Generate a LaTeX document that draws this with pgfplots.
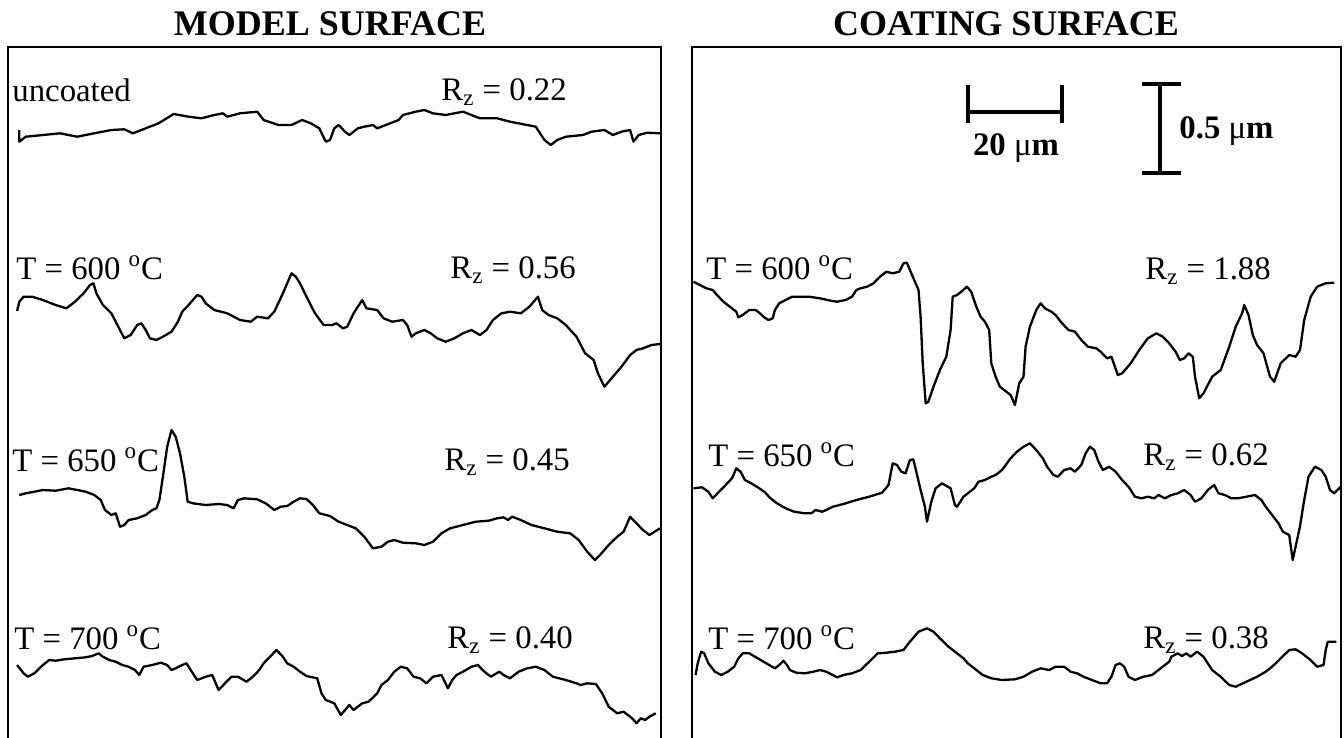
\documentclass[border=0pt]{standalone}
\usepackage{fontspec}
\setmainfont{Liberation Serif}
\usepackage{pgfplots}
\pgfplotsset{compat=1.18}
\pgfplotsset{panel/.style={scale only axis, height=349pt, y dir=reverse, ymin=47, ymax=745,
  xtick=\empty, ytick=\empty, axis line style={line width=1.4pt}, clip=false},
  prof/.style={black, line width=1.15pt, mark=none, line join=round}}
\newcommand{\lbl}{\fontsize{16.4}{18}\selectfont}
\newcommand{\ttl}{\fontsize{18}{20}\selectfont\bfseries}
\begin{document}
\begin{tikzpicture}
% ---------------- left panel ----------------
\begin{axis}[panel, at={(4pt,-23.5pt)}, anchor=north west, width=326.5pt, xmin=8, xmax=661]
\addplot[prof] coordinates {(19.3,130)(19.3,141.7)(25.7,136.7)(42.9,135)(60,133.3)(77.2,136.7)(94.3,133.3)(111.4,130)(124.3,129.3)(132.9,133.3)(145.7,128.3)(158.6,123.3)(173.6,114)(188.6,116.7)(201.5,118.3)(214.3,115)(222.9,113.3)(227.2,116.7)(240,113.3)(257.2,111.7)(263.6,120)(278.6,125)(291.5,125)(302.2,120)(310.8,123.3)(319.3,128.3)(325.8,141.7)(330,140)(334.3,128.3)(338.6,125)(345,131.7)(349.3,135)(357.9,128.3)(364.3,126.7)(372.9,125)(377.2,128.3)(385.8,125)(398.6,120)(402.9,115)(415.8,111.7)(424.3,110)(432.9,113.3)(445.8,115)(454.4,113.3)(462.9,111.7)(471.5,115)(480,118.3)(497.2,118.3)(510.1,121.7)(527.2,125)(535.8,126.7)(544.4,140)(550.8,145)(557.2,140)(565.8,136.7)(582.9,135)(591.5,131.7)(604.4,130)(612.9,135)(621.5,131.7)(630.1,130)(633.5,141.7)(638.7,135)(647.2,132.7)(660,133.3)};
\addplot[prof] coordinates {(17.1,311)(19.3,301.7)(23.6,296.7)(32.1,296.7)(42.9,300)(55.7,305)(66.4,308.3)(75,301.7)(83.6,293.3)(90,285)(93.4,283.3)(96.4,293.3)(102.9,305)(111.4,313.3)(120,330)(124.3,338.3)(130.7,335)(137.2,325)(141.4,323.3)(145.7,330)(150,338.3)(156.4,340)(162.9,336.7)(171.5,331.7)(177.9,321.7)(182.2,311.7)(188.6,305)(197.2,295)(201.5,296.7)(205.7,303.3)(214.3,310)(227.2,313.3)(240,320)(250.8,321.7)(255,318.3)(257.2,316.7)(267.9,318.3)(274.3,311.7)(282.9,293.3)(291.5,273.3)(295.8,276.7)(300,283.3)(306.5,296.7)(315,313.3)(323.6,325)(332.2,325)(336.5,323.3)(342.9,328.3)(347.2,326.7)(353.6,313.3)(362.2,300)(366.5,308.3)(377.2,310)(383.6,318.3)(392.2,321.7)(402.9,320)(407.2,325)(411.5,336.7)(415.8,333.3)(424.3,330)(430.8,333.3)(437.2,338.3)(445.8,341.7)(454.4,338.3)(462.9,333.3)(471.5,330)(480,335)(486.5,330)(492.9,320)(501.5,313.3)(510.1,311.7)(520.8,313.3)(529.4,306.7)(537.9,296.7)(542.2,310)(548.6,315)(557.2,318.3)(565.8,325)(576.5,336.7)(585.1,353.3)(593.7,360)(597.9,373.3)(604.4,386.7)(612.9,376.7)(621.5,366.7)(630.1,355)(636.5,350)(643,348.3)(651.5,345)(660,344)};
\addplot[prof] coordinates {(19.3,495)(25.7,493.3)(34.3,491.7)(42.9,490)(55.7,490.7)(68.6,488.3)(77.2,490)(85.7,491.7)(94.3,495)(100.7,500)(105,510)(111.4,515)(115.7,513.3)(120,526.7)(124.3,525)(128.6,520)(137.2,518.3)(145.7,515)(152.2,510)(156.4,508.3)(159.4,500)(162.9,476.7)(167.2,446.7)(171.5,430)(175.7,436.7)(180,453.3)(184.3,476.7)(187.7,501.7)(192.9,503.3)(205.7,505)(218.6,504)(227.2,505)(233.6,508.3)(237.9,500)(244.3,498.3)(257.2,499.3)(265.7,503.3)(274.3,510)(280.8,506.7)(287.2,506)(293.6,501.7)(300,498.3)(306.5,499)(312.9,505)(319.3,513.3)(330,516)(338.6,521.7)(347.2,525)(355.8,528.3)(364.3,536.7)(372.9,548.3)(381.5,546.7)(387.9,541.7)(394.3,540)(402.9,542.7)(415.8,543.3)(424.3,545)(432.9,541.7)(441.5,533.3)(450.1,528.3)(462.9,525)(475.8,521.7)(488.6,520.7)(497.2,518.3)(503.6,517.3)(507.9,520)(512.2,516.7)(520.8,520)(531.5,525)(544.4,528.3)(557.2,531.7)(570.1,533.3)(578.7,540)(587.2,551.7)(594.9,560)(600,555)(608.7,545)(617.2,536.7)(623.6,531.7)(630.1,516.7)(636.5,523.3)(643,530)(649.4,535)(660,528.3)};
\addplot[prof] coordinates {(17.1,665)(23.6,673.3)(27.9,676.7)(34.3,673.3)(42.9,665)(49.3,660)(55.7,660.7)(64.3,659.3)(75,658.3)(85.7,657.3)(92.2,656)(98.6,653.3)(102.9,656.7)(109.3,660)(115.7,661.7)(122.2,665)(128.6,666.7)(135,670)(139.3,675)(143.6,666.7)(152.2,665)(160.7,662.7)(167.2,665)(171.5,670)(175.7,668.3)(182.2,665)(186.5,663.3)(190.7,670)(197.2,680)(205.7,676.7)(212.2,675)(218.6,690)(225,683.3)(231.5,676.7)(237.9,676.7)(246.5,681.7)(252.9,676.7)(259.3,670)(263.6,663.3)(270,656.7)(276.5,650)(282.9,656.7)(287.2,663.3)(293.6,666.7)(300,671.7)(306.5,676)(317.2,678.3)(321.5,693.3)(325.8,700)(334.3,703.3)(340.8,715)(345.1,710)(349.3,705)(353.6,710)(362.2,703.3)(368.6,701.7)(377.2,693.3)(381.5,685)(387.9,680)(394.3,671.7)(400.8,666.7)(407.2,668.3)(413.6,676.7)(420.1,678.3)(426.5,683.3)(432.9,676.7)(441.5,675)(447.9,688.3)(452.2,680)(456.5,675)(462.9,671.7)(471.5,666.7)(477.9,665)(484.4,671.7)(490.8,676.7)(499.4,671.7)(503.6,675)(510.1,678.3)(518.6,671.7)(527.2,668.3)(535.8,666.7)(544.4,670)(552.9,676.7)(565.8,680)(576.5,683.3)(580.8,685)(587.2,683.3)(595.8,684)(602.2,693.3)(608.7,706.7)(617.2,713.3)(623.6,711.7)(632.2,718.3)(636.5,723.3)(640.8,718.3)(645.1,720)(649.4,716.7)(655.8,713.3)};
\node[font=\ttl] at (axis cs:330,24) {MODEL SURFACE};
\node[font=\lbl, anchor=west, inner sep=0pt] at (axis cs:12,90) {uncoated};
\node[font=\lbl, anchor=west, inner sep=0pt] at (axis cs:441,92) {R\textsubscript{z} = 0.22};
\node[font=\lbl, anchor=west, inner sep=0pt] at (axis cs:16,268) {T = 600 \textsuperscript{o}C};
\node[font=\lbl, anchor=west, inner sep=0pt] at (axis cs:450,270) {R\textsubscript{z} = 0.56};
\node[font=\lbl, anchor=west, inner sep=0pt] at (axis cs:12,460) {T = 650 \textsuperscript{o}C};
\node[font=\lbl, anchor=west, inner sep=0pt] at (axis cs:444,462) {R\textsubscript{z} = 0.45};
\node[font=\lbl, anchor=west, inner sep=0pt] at (axis cs:14,638) {T = 700 \textsuperscript{o}C};
\node[font=\lbl, anchor=west, inner sep=0pt] at (axis cs:447,640) {R\textsubscript{z} = 0.40};
\end{axis}
% ---------------- right panel ----------------
\begin{axis}[panel, at={(346pt,-23.5pt)}, anchor=north west, width=324.5pt, xmin=692, xmax=1341]
\addplot[prof] coordinates {(693.4,281.7)(699.9,285)(706.3,288.3)(712.7,290)(717,295)(723.4,301.7)(729.9,306.7)(736.3,311.7)(738.4,317.3)(742.7,315)(749.2,310)(755.6,310)(759.9,313.3)(764.2,317.3)(768.4,320)(772.7,318.3)(774.9,310)(779.2,303.3)(785.6,300)(792,296.7)(800.6,296.7)(809.2,296.7)(819.9,298.3)(830.6,300.7)(837,301.7)(845.6,300)(852,296.7)(856.3,290)(860.6,288.3)(867,286.7)(873.5,283.3)(879.9,276.7)(886.3,271.7)(892.7,273.3)(899.2,271.7)(903.5,263.3)(906.9,262.7)(909.9,270)(914.2,280)(918.5,290)(920.6,316.7)(922.7,363.3)(925.7,403.3)(928.3,401.7)(933.5,386.7)(939.9,370)(946.3,356.7)(950.6,330)(952.7,296.7)(957,295)(961.3,291.7)(966.9,286.7)(971.2,291.7)(976.3,306.7)(980.6,316.7)(984.9,321.7)(989.2,330)(991.3,363.3)(995.6,376.7)(999.9,386.7)(1006.3,391.7)(1010.6,395)(1014.9,405)(1019.2,383.3)(1023.5,376.7)(1025.6,346.7)(1029.9,326.7)(1036.3,310)(1040.6,303.3)(1044.9,308.3)(1051.3,311.7)(1055.6,315)(1062,323.3)(1068.5,330)(1074.9,331.7)(1081.3,340)(1087.8,346.7)(1096.4,348.3)(1100.6,351.7)(1107.1,358.3)(1111.4,356.7)(1117.8,375)(1122.1,373.3)(1130.7,363.3)(1139.2,350)(1147.8,338.3)(1156.4,333.3)(1162.8,336.7)(1169.2,343.3)(1175.6,351.7)(1179.9,360)(1184.2,358.3)(1188.5,353.3)(1192.8,356.7)(1195,376.7)(1199.2,398.3)(1203.5,393.3)(1212.1,376.7)(1220.7,370)(1229.2,346.7)(1235.7,326.7)(1242.1,313.3)(1244.2,305)(1248.5,315)(1252.8,335)(1257.1,345)(1263.5,353.3)(1270,376.7)(1274.2,381.7)(1280.7,363.3)(1289.2,355)(1295.6,356.7)(1300,350)(1304.2,320)(1310.7,296.7)(1317.1,286.7)(1325.7,283.3)(1334.2,282.7)};
\addplot[prof] coordinates {(693.4,488.3)(702,487.3)(708.4,491.7)(712.7,498.3)(719.1,491.7)(725.6,485)(732,478.3)(736.3,468.3)(740.6,471.7)(744.9,480)(751.3,483.3)(757.7,487.3)(764.2,491.7)(770.6,498.3)(777,503.3)(785.6,508.3)(794.2,511.7)(804.9,513.3)(811.3,513.3)(815.6,510)(822,511.7)(826.3,510)(832.7,506.7)(843.5,504)(856.3,500)(869.2,496.7)(882,492.7)(888.5,485)(892.7,463.3)(897,465)(901.3,471.7)(905.6,473.3)(909.9,460)(913.3,459.3)(916.3,471.7)(920.6,490)(924.9,506.7)(927,521.7)(931.3,501.7)(935.6,488.3)(942,483.3)(950.6,488.3)(954.9,505)(957,506.7)(963.5,496.7)(967.8,493.3)(974.2,488.3)(978.5,481.7)(984.9,480)(991.3,476.7)(995.6,475)(1002,470)(1010.6,458.3)(1017,451.7)(1023.5,446.7)(1029.9,443.3)(1036.3,450)(1042.8,458.3)(1047.1,466.7)(1053.5,475)(1057.8,476.7)(1064.2,470)(1070.6,468.3)(1074.9,471.7)(1081.3,465)(1085.6,453.3)(1089.9,446.7)(1094.2,450)(1098.5,461.7)(1102.8,470)(1109.2,466.7)(1115.6,471.7)(1122.1,480)(1128.5,486.7)(1134.9,496.7)(1141.4,498.3)(1147.8,496.7)(1154.2,498.3)(1158.5,495)(1164.9,498.3)(1171.3,495)(1177.8,493.3)(1184.2,490)(1190.6,495)(1194.9,501.7)(1201.3,498.3)(1207.8,490)(1214.2,485)(1218.5,493.3)(1224.9,495)(1231.4,498.3)(1237.8,498.3)(1246.4,496.7)(1255,495)(1261.4,500)(1265.7,506.7)(1272.1,515)(1278.5,523.3)(1282.8,531.7)(1289.2,535)(1292.7,560)(1295.6,546.7)(1299.9,526.7)(1304.2,500)(1308.5,476.7)(1314.9,466.7)(1321.4,470)(1325.7,476.7)(1330,490)(1334.2,493.3)(1340.7,486.7)};
\addplot[prof] coordinates {(695.6,675)(697.7,663.3)(701.1,651.7)(704.1,653.3)(708.4,663.3)(714.9,671.7)(721.3,675)(727.7,671.7)(734.2,666.7)(738.4,658.3)(742.7,653.3)(749.2,653.3)(757.7,658.3)(766.3,663.3)(774.9,668.3)(779.2,665)(783.4,660.7)(786.9,665)(789.9,670)(796.3,672.7)(804.9,673.3)(813.4,671.7)(819.9,670)(826.3,671.7)(832.7,675)(837,677.3)(843.5,675)(852,673.3)(860.6,670)(869.2,661.7)(877.7,653.3)(886.3,652.7)(894.9,651.7)(903.5,650)(909.9,641.7)(918.5,631.7)(927,628.3)(933.5,631.7)(939.9,638.3)(948.5,646.7)(957,653.3)(963.5,658.3)(967.8,663.3)(974.2,668.3)(982.8,675)(991.3,678.3)(1002,680)(1014.9,679.3)(1023.5,676.7)(1032,671.7)(1040.6,668.3)(1049.2,670)(1055.6,666.7)(1064.2,666.7)(1070.6,671.7)(1077,673.3)(1083.5,676.7)(1092,680)(1100.6,683.3)(1107.1,683.3)(1111.4,676.7)(1115.6,665)(1119.9,663.3)(1124.2,666.7)(1128.5,676.7)(1134.9,680)(1143.5,676.7)(1152,675)(1160.6,668.3)(1169.2,661.7)(1171.3,656.7)(1177.8,653.3)(1182,656)(1186.3,653.3)(1190.6,656.7)(1197.1,651.7)(1203.5,656.7)(1212.1,670)(1220.7,676.7)(1229.2,685)(1235.7,686.7)(1246.4,681.7)(1257.1,676.7)(1265.7,671.7)(1272.1,666.7)(1280.7,658.3)(1289.2,650)(1295.6,649.3)(1302,653.3)(1310.6,660)(1317.1,666.7)(1323.5,665)(1325.7,650)(1327.8,641.7)(1336.4,641.7)};
\node[font=\ttl] at (axis cs:1006,24) {COATING SURFACE};
% scale bars
\draw[line width=2.2pt] (axis cs:968,112) -- (axis cs:1062,112);
\draw[line width=2.2pt] (axis cs:968,85) -- (axis cs:968,123);
\draw[line width=2.2pt] (axis cs:1062,85) -- (axis cs:1062,123);
\draw[line width=2.2pt] (axis cs:1160,84) -- (axis cs:1160,173);
\draw[line width=2.2pt] (axis cs:1142,84) -- (axis cs:1181,84);
\draw[line width=2.2pt] (axis cs:1142,173) -- (axis cs:1181,173);
\node[font=\lbl\bfseries] at (axis cs:1016,148) {20 {\mdseries μ}m};
\node[font=\lbl\bfseries, anchor=west, inner sep=0pt] at (axis cs:1179,131) {0.5 {\mdseries μ}m};
\node[font=\lbl, anchor=west, inner sep=0pt] at (axis cs:706,268) {T = 600 \textsuperscript{o}C};
\node[font=\lbl, anchor=west, inner sep=0pt] at (axis cs:1145,271) {R\textsubscript{z} = 1.88};
\node[font=\lbl, anchor=west, inner sep=0pt] at (axis cs:708,455) {T = 650 \textsuperscript{o}C};
\node[font=\lbl, anchor=west, inner sep=0pt] at (axis cs:1143,457) {R\textsubscript{z} = 0.62};
\node[font=\lbl, anchor=west, inner sep=0pt] at (axis cs:708,638) {T = 700 \textsuperscript{o}C};
\node[font=\lbl, anchor=west, inner sep=0pt] at (axis cs:1143,640) {R\textsubscript{z} = 0.38};
\end{axis}
\pgfresetboundingbox
\path[use as bounding box] (0,0) rectangle (672pt,-369pt);
\end{tikzpicture}
\end{document}
